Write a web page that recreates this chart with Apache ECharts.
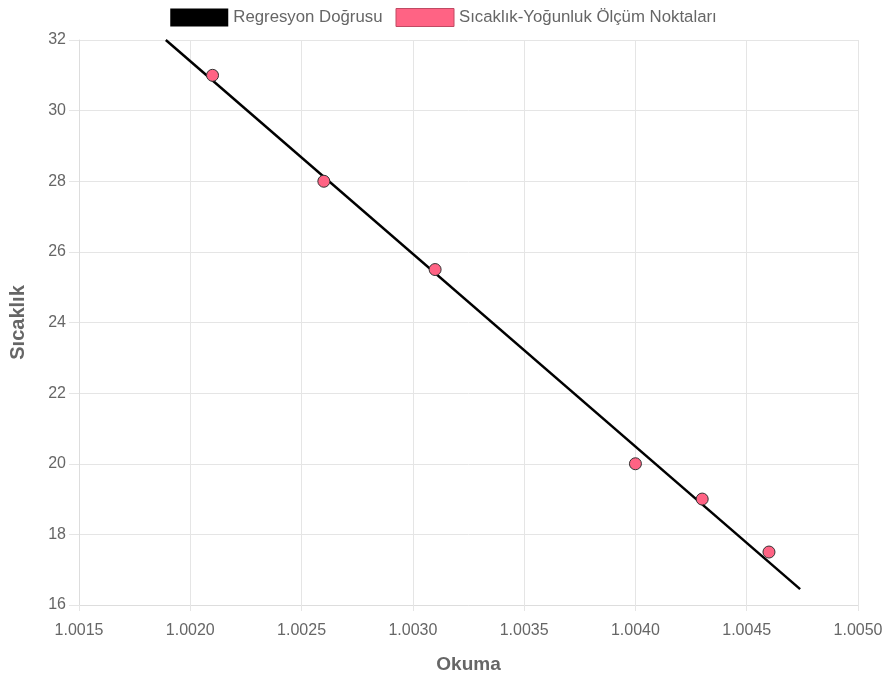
<!DOCTYPE html>
<html><head><meta charset="utf-8">
<script src="https://cdn.jsdelivr.net/npm/echarts@6/dist/echarts.min.js"></script>
<style>html,body{margin:0;padding:0;background:#fff}#c{width:887px;height:679px}</style>
</head><body><div id="c"></div>
<script>
const pointsX = [1.0021, 1.0026, 1.0031, 1.0040, 1.0043, 1.0046];
const pointsY = [31, 28, 25.5, 20, 19, 17.5];
const lineX = [1.00189, 1.00474];
const lineY = [32, 16.45];
const seriesNames = ['Regresyon Doğrusu', 'Sıcaklık-Yoğunluk Ölçüm Noktaları'];

const chart = echarts.init(document.getElementById('c'));
const font = 'Liberation Sans, Arial, sans-serif';
chart.setOption({
  animation: false,
  textStyle: {fontFamily: font},
  legend: {
    top: 3, left: 'center', itemWidth: 58, itemHeight: 18, itemGap: 13,
    textStyle: {color: '#666', fontSize: 16.8, fontFamily: font},
    data: [
      {name: seriesNames[0], icon: 'rect', itemStyle: {color: '#000', borderWidth: 0}},
      {name: seriesNames[1], icon: 'rect', itemStyle: {color: '#ff6384', borderColor: '#c04a63', borderWidth: 1}}
    ]
  },
  grid: {left: 79, right: 29, top: 40, bottom: 73, containLabel: false},
  xAxis: {
    type: 'value', min: 1.0015, max: 1.005, interval: 0.0005,
    name: 'Okuma', nameLocation: 'middle', nameGap: 50,
    nameTextStyle: {color: '#666', fontSize: 19, fontWeight: 'bold', fontFamily: font},
    axisLine: {show: true, lineStyle: {color: '#ddd'}},
    axisTick: {show: true, length: 6, lineStyle: {color: '#e5e5e5'}},
    axisLabel: {color: '#666', fontSize: 16, margin: 18, formatter: v => v.toFixed(4)},
    splitLine: {show: true, lineStyle: {color: '#e5e5e5'}}
  },
  yAxis: {
    type: 'value', min: 16, max: 32, interval: 2,
    name: 'Sıcaklık', nameLocation: 'middle', nameGap: 51, nameRotate: 90,
    nameTextStyle: {color: '#666', fontSize: 20, fontWeight: 'bold', fontFamily: font},
    axisLine: {show: true, lineStyle: {color: '#ddd'}},
    axisTick: {show: true, length: 10, lineStyle: {color: '#e5e5e5'}},
    axisLabel: {color: '#666', fontSize: 16, margin: 13},
    splitLine: {show: true, lineStyle: {color: '#e5e5e5'}}
  },
  series: [
    {
      name: seriesNames[0], type: 'line', showSymbol: false, symbol: 'none',
      data: lineX.map((x, i) => [x, lineY[i]]),
      lineStyle: {color: '#000', width: 2.5}, itemStyle: {color: '#000'}, z: 2
    },
    {
      name: seriesNames[1], type: 'scatter', symbolSize: 12,
      data: pointsX.map((x, i) => [x, pointsY[i]]),
      itemStyle: {color: '#ff6384', borderColor: '#333', borderWidth: 1, opacity: 1}, z: 3
    }
  ]
});
</script></body></html>
